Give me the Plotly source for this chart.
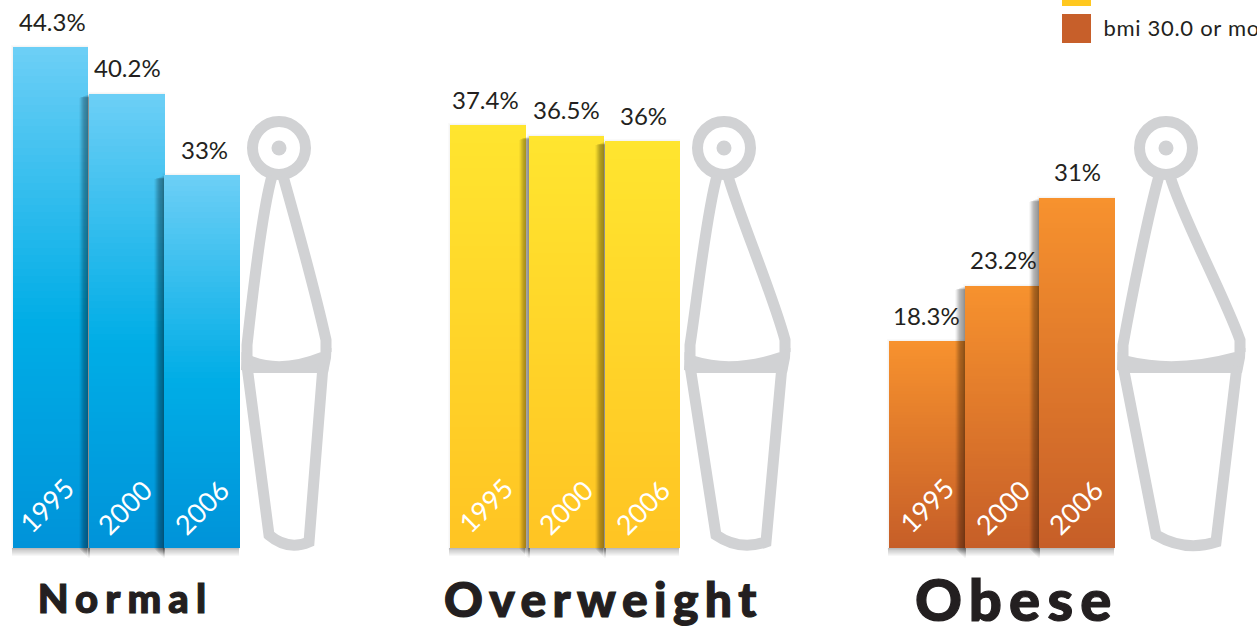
import plotly.graph_objects as go

# ---------- data ----------
groups = ["Normal", "Overweight", "Obese"]
years = ["1995", "2000", "2006"]
normal_values = [44.3, 40.2, 33]
overweight_values = [37.4, 36.5, 36]
obese_values = [18.3, 23.2, 31]
value_labels = [["44.3%", "40.2%", "33%"], ["37.4%", "36.5%", "36%"], ["18.3%", "23.2%", "31%"]]
legend_text = "bmi 30.0 or more"

# ---------- layout constants (pixels of the 1257x627 picture) ----------
W, H = 1257, 627
BASE_PX, PX_PER_UNIT = 548, 11.3
bar_edges = [[(13, 88), (89, 165), (164, 240)],
             [(450, 526), (529, 604), (605, 680)],
             [(889, 965), (965, 1039), (1039, 1115)]]
label_x = [[52, 127, 204], [485, 566, 643], [926, 1003, 1077]]
year_x = [[46, 124, 201], [485, 565, 642], [926, 1002, 1075]]
year_y = [505, 507, 507]
title_x = [125, 603, 1017]
title_y = [598, 598, 598]
title_size = [40, 48, 58]
title_spacing = [7.1, 6.4, 7.2]
shadow_alpha = [0.03, 0.03, 0.03, 0.04, 0.05, 0.07, 0.07, 0.07, 0.05, 0.03]
gradients = [
    [(0, (109, 207, 246)), (0.55, (0, 173, 230)), (1, (0, 147, 217))],
    [(0, (255, 229, 47)), (1, (255, 196, 35))],
    [(0, (247, 146, 46)), (1, (198, 94, 40))],
]
INK, GREY = "#231F20", "#D1D2D4"
SEGMENTS = 70


def v(px):
    return (BASE_PX - px) / PX_PER_UNIT


def ramp(stops, t):
    for (a, ca), (b, cb) in zip(stops, stops[1:]):
        if t <= b:
            f = (t - a) / (b - a)
            return "rgb(%d,%d,%d)" % tuple(round(p + (q - p) * f) for p, q in zip(ca, cb))
    return "rgb(%d,%d,%d)" % stops[-1][1]


fig = go.Figure()


def add_rects(rects):
    """rects: (x0, x1, base value, top value, colour)"""
    fig.add_bar(x=[(r[0] + r[1]) / 2 for r in rects], width=[r[1] - r[0] for r in rects],
                base=[r[2] for r in rects], y=[r[3] - r[2] for r in rects],
                marker=dict(color=[r[4] for r in rects], line=dict(width=0)),
                hoverinfo="skip", showlegend=False)


all_values = [normal_values, overweight_values, obese_values]
for g, values in enumerate(all_values):
    for i, val in enumerate(values):
        x0, x1 = bar_edges[g][i]
        top_px = BASE_PX - val * PX_PER_UNIT
        shadow = []
        for k in range(1, 3):
            shadow.append((x0 - k, x1, v(BASE_PX + k), val + k / PX_PER_UNIT, "rgba(0,0,0,0.018)"))
        for k in range(1, 9):
            shadow.append((x0 - 1, x1 - 1, v(BASE_PX + k), 0, "rgba(0,0,0,0.03)"))
        if i > 0:
            for k, a in enumerate(shadow_alpha, start=1):
                shadow.append((x0 - k, x0 + 1, v(BASE_PX + 11 - k), v(top_px + k * 0.4), f"rgba(0,0,0,{a})"))
        add_rects(shadow)
        step = val / SEGMENTS
        segs = []
        for s in range(SEGMENTS):
            t = 1 - (s + 0.5) / SEGMENTS
            segs.append((x0, x1, s * step, (s + 1) * step, ramp(gradients[g], t)))
        add_rects(segs)

annotations = []
for g, values in enumerate(all_values):
    for i, val in enumerate(values):
        annotations.append(dict(x=label_x[g][i], y=val, text=value_labels[g][i], yshift=26, yanchor="middle",
                                xanchor="center", showarrow=False,
                                font=dict(family="Lato", size=24, color=INK)))
        annotations.append(dict(x=year_x[g][i], y=v(year_y[i]), text=years[i], textangle=-45, showarrow=False,
                                xanchor="center", yanchor="middle",
                                font=dict(family="Lato", size=27, color="white")))
    annotations.append(dict(x=title_x[g], y=v(title_y[g]), text=groups[g], showarrow=False, xanchor="center",
                            yanchor="middle", font=dict(family="Lato", size=title_size[g], color=INK, weight=900)))
annotations.append(dict(x=1106.6, y=v(27), text=legend_text, showarrow=False, xanchor="left", yanchor="middle",
                        font=dict(family="Lato", size=22, color=INK)))

# ---------- decorative body outlines ----------
figures = [
    dict(hx=279, L=247, R=326, bl=269, bm=291, br=309, y_bot=549, lm=252, rm=316),
    dict(hx=724, L=690, R=785, bl=716, bm=742, br=766, y_bot=549, lm=697, rm=773),
    dict(hx=1166, L=1123, R=1240, bl=1156, bm=1188, br=1216, y_bot=550, lm=1131, rm=1224),
]


def P(x, y):
    return f"{x},{v(y):.3f}"


shapes = []
for f in figures:
    hx, L, R = f["hx"], f["L"], f["R"]
    line = dict(color=GREY, width=11)
    stroke = dict(type="path", xref="x", yref="y", line=line, layer="below")
    shapes.append(dict(type="circle", xref="x", yref="y", x0=hx - 26.5, x1=hx + 26.5, y0=v(148 + 26.5), y1=v(148 - 26.5),
                       line=line, layer="below"))
    shapes.append(dict(type="circle", xref="x", yref="y", x0=hx - 7.5, x1=hx + 7.5, y0=v(155.5), y1=v(140.5),
                       fillcolor=GREY, line=dict(width=0), layer="below"))
    shapes.append(dict(stroke, path=f"M {P(hx - 7, 176)} C {P(hx - 18, 215)} {P(f['lm'], 300)} {P(L, 345)} L {P(L, 360)}"))
    shapes.append(dict(stroke, path=f"M {P(hx + 4, 176)} C {P(hx + 15, 215)} {P(f['rm'], 295)} {P(R, 340)} L {P(R, 352)}"))
    shapes.append(dict(type="path", xref="x", yref="y", layer="below", fillcolor=GREY, line=dict(width=0),
                       path=f"M {P(L - 5.5, 352)} L {P(L + 5, 356)} Q {P((L + R) / 2 - 5, 368)} {P(R - 5, 352)} L {P(R + 5.5, 348)} "
                            f"L {P(R + 5, 358)} L {P(R + 2, 373)} L {P(L + 6, 373)} L {P(L - 6, 370)} Z"))
    shapes.append(dict(stroke, path=f"M {P(L, 366)} L {P(f['bl'], 535)} Q {P(f['bm'] - 3, f['y_bot'] + 2)} {P(f['br'], 542)} L {P(R - 3, 366)}"))

for y0, y1, col in [(-8, 6, "#FFC81F"), (14, 43, "#C75F2A")]:
    shapes.append(dict(type="rect", xref="x", yref="y", x0=1062, x1=1091, y0=v(y1), y1=v(y0), fillcolor=col, line=dict(width=0)))

fig.update_layout(
    width=W, height=H, autosize=False, margin=dict(l=0, r=0, t=0, b=0),
    paper_bgcolor="white", plot_bgcolor="white", barmode="overlay", bargap=0, showlegend=False,
    xaxis=dict(range=[0, W], visible=False, fixedrange=True),
    yaxis=dict(range=[v(H), v(0)], visible=False, fixedrange=True),
    annotations=annotations, shapes=shapes,
)

spacing = """
document.body.style.margin = '0';
var spacings = {%s};
document.querySelectorAll('.annotation-text').forEach(function (t) {
  var word = t.textContent;
  if (spacings[word]) {
    t.style.letterSpacing = spacings[word] + 'px';
    t.style.stroke = '%s';
    t.style.strokeWidth = '1.2px';
  }
  if (word.indexOf('bmi') === 0) { t.style.letterSpacing = '0.7px'; }
});
""" % (", ".join(f"'{n}': {s}" for n, s in zip(groups, title_spacing)), INK)
fig.write_html("out.html", post_script=spacing, config=dict(displayModeBar=False))
